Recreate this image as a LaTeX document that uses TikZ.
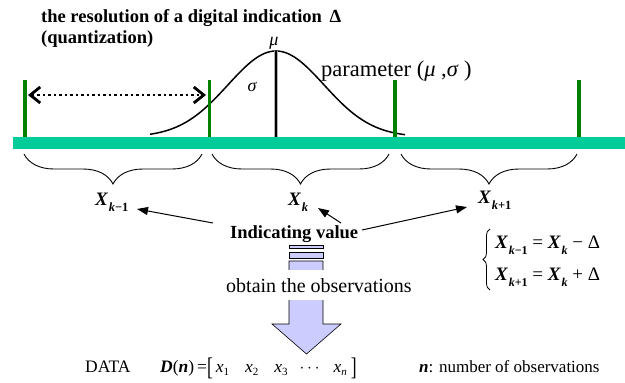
\documentclass[tikz,border=0pt]{standalone}
\usepackage{fontspec}
\usepackage{graphicx}
\setmainfont{Liberation Serif}
\usetikzlibrary{arrows.meta,decorations.pathreplacing}
\definecolor{barg}{RGB}{0,204,153}
\definecolor{tickg}{RGB}{0,128,0}
\definecolor{lav}{RGB}{204,204,255}
\newcommand{\fs}[1]{\fontsize{#1}{#1}\selectfont}
\newcommand{\XL}[4]{{\fs{#1}\textbf{\textit{X}}}\kern0.6pt\raisebox{-#3pt}{\fs{#2}\textbf{\textit{k}}\textbf{#4}}}
\newcommand{\xs}[1]{\textit{x}\raisebox{-3pt}{\fs{11}#1}}
\tikzset{
  txt/.style={inner sep=0pt, anchor=base west},
  tickline/.style={draw=tickg, line width=3.5pt},
  cbrace/.style={decorate, decoration={brace, mirror, amplitude=30pt}, line width=0.9pt},
  arr/.style={line width=1pt, -{Triangle[length=11pt,width=8pt]}},
  bigarrow/.style={fill=lav, draw=black, line width=0.6pt}
}
\begin{document}
\begin{tikzpicture}[x=1pt,y=-1pt]
\useasboundingbox (0,0) rectangle (625,383);
% title
\node[txt, font=\bfseries\fs{18.5}] (title1) at (41,22) {the resolution of a digital indication \,Δ};
\node[txt, font=\bfseries\fs{18.5}] (title2) at (41,43) {(quantization)};
% bar
\fill[barg] (13,137) rectangle (625,149);
% gaussian
\draw[line width=1.5pt] plot[domain=150:405, samples=120, smooth] (\x, {137-86*exp(-0.5*((\x-276)/48)^2)});
\draw[gray!60, line width=3.6pt] (276,51) -- (276,137);
\draw[black, line width=2pt] (276,51) -- (276,137);
\node[font=\itshape\fs{18}, inner sep=0pt] (mu) at (274,43) {μ};
\node[font=\itshape\fs{18}, inner sep=0pt] (sg) at (252,87) {σ};
\node[txt, font=\fs{22.5}] (param) at (321,76) {parameter (\textit{μ} ,\textit{σ} )};
% green ticks
\coordinate (g1t) at (25,80); \coordinate (g1b) at (25,137);
\coordinate (g2t) at (209.5,80); \coordinate (g2b) at (209.5,137);
\coordinate (g3t) at (395,80); \coordinate (g3b) at (395,137);
\coordinate (g4t) at (579,80); \coordinate (g4b) at (579,137);
\draw[tickline] (g1t) -- (g1b);
\draw[tickline] (g2t) -- (g2b);
\draw[tickline] (g3t) -- (g3b);
\draw[tickline] (g4t) -- (g4b);
% dotted double arrow
\coordinate (d1) at (28,95); \coordinate (d2) at (206,95);
\draw[line width=2.5pt, dash pattern=on 2.5pt off 3pt,
  {Straight Barb[length=10pt,width=16pt,line width=2.8pt]}-{Straight Barb[length=10pt,width=16pt,line width=2.8pt]}] (d1) -- (d2);
% braces
\coordinate (b1a) at (24,154); \coordinate (b1b) at (202,154);
\coordinate (b2a) at (212,154); \coordinate (b2b) at (389,154);
\coordinate (b3a) at (401,154); \coordinate (b3b) at (577,154);
\draw[cbrace] (b1a) -- (b1b);
\draw[cbrace] (b2a) -- (b2b);
\draw[cbrace] (b3a) -- (b3b);
% X labels
\node[txt] (xkm) at (95,205) {\XL{19}{12.5}{6}{−1}};
\node[txt] (xk) at (288,205) {\XL{19}{12.5}{6}{}};
\node[txt] (xkp) at (478,203) {\XL{19}{12.5}{6}{+1}};
% indicating value
\node[txt, font=\bfseries\fs{18.5}] (iv) at (230,238) {Indicating value};
\coordinate (a1s) at (213,223); \coordinate (a1e) at (137,209);
\coordinate (a2s) at (341,223); \coordinate (a2e) at (318,208);
\coordinate (a3s) at (362,230); \coordinate (a3e) at (467,207);
\draw[arr] (a1s) -- (a1e);
\draw[arr] (a2s) -- (a2e);
\draw[arr] (a3s) -- (a3e);
% striped arrow
\draw[bigarrow] (289,245) rectangle (323,248);
\draw[bigarrow] (289,252) rectangle (323,258);
\draw[bigarrow] (289,261) -- (323,261) -- (323,324) -- (341,324) -- (306.5,354) -- (272,324) -- (289,324) -- cycle;
\node[txt, fill=white, inner xsep=0pt, inner ysep=8pt, font=\fs{20}] (obs) at (226,292) {obtain the observations};
% equations
\coordinate (eb1) at (490,290); \coordinate (eb2) at (490,229);
\draw[decorate, decoration={brace, amplitude=7pt}, line width=0.8pt] (eb1) -- (eb2);
\node[txt, font=\fs{19}] (eq1) at (495,248) {\XL{19}{12}{6}{−1} = \XL{19}{12}{6}{} − Δ};
\node[txt, font=\fs{19}] (eq2) at (495,280) {\XL{19}{12}{6}{+1} = \XL{19}{12}{6}{} + Δ};
% data
\node[txt, font=\fs{17.5}] (data) at (85,372) {DATA};
\node[txt, font=\fs{17.5}] (dn) at (160,372) {\textbf{\textit{D}}(\textbf{\textit{n}})\,=\raisebox{-3pt}{\scalebox{1}[1.45]{[}}\,\xs{1}\hspace{16pt}\xs{2}\hspace{16pt}\xs{3}\hspace{12pt}$\cdots$\hspace{14pt}\xs{\textit{n}}\hspace{4pt}\raisebox{-3pt}{\scalebox{1}[1.45]{]}}};
\node[txt, font=\fs{17}] (nobs) at (419,372) {\textbf{\textit{n}}: number of observations};
\end{tikzpicture}
\end{document}
